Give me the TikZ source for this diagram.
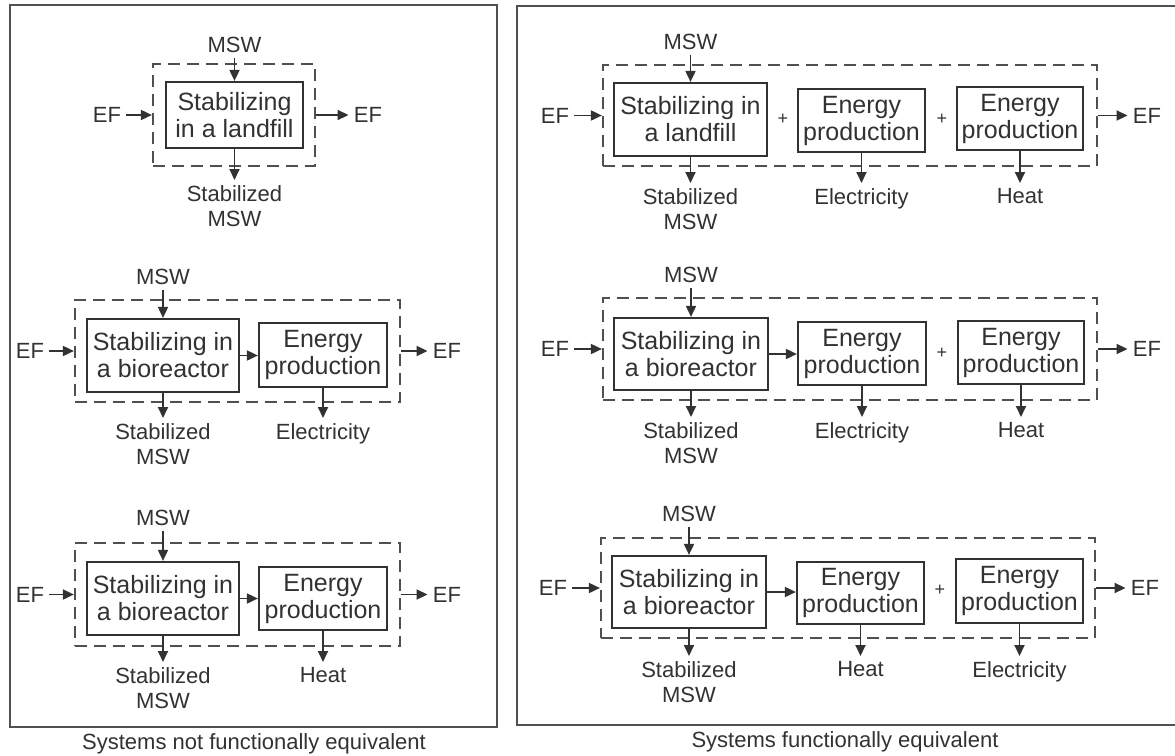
\documentclass[tikz,border=0pt]{standalone}
\usepackage{fontspec}
\setmainfont{Liberation Sans}
\usepackage{tikz}
\usetikzlibrary{arrows.meta}
\definecolor{inkgray}{RGB}{50,50,50}
\definecolor{framegray}{RGB}{80,80,80}
\newcommand{\boxfont}{\fontsize{12.5}{13.5}\selectfont}
\newcommand{\lblfont}{\fontsize{11}{12.5}\selectfont}

\begin{document}
\begin{tikzpicture}[x=0.5pt, y=-0.5pt,
		proc/.style={draw=inkgray, line width=1.1pt, fill=white, align=center, inner sep=0pt, font=\boxfont, text=inkgray},
		sysbox/.style={draw=framegray, line width=1.1pt, dash pattern=on 6pt off 3.5pt, inner sep=0pt},
		lbl/.style={align=center, inner sep=2.5pt, font=\lblfont, text=inkgray},
		plus/.style={inner sep=1pt, font=\fontsize{9}{10}\selectfont, text=inkgray},
		flow/.style={draw=inkgray, line width=0.9pt, -{Triangle[length=5.5pt,width=5pt]}},
		panel/.style={draw=framegray, line width=1.2pt}]
			\useasboundingbox (0,0) rectangle (1175,756);
			
			% Panel frames
			\draw[panel] (10,5) rectangle (497,727);
			\draw[panel] (517,6) rectangle (1180,725);
			\node[lbl] (capL) at (254,744) {Systems not functionally equivalent};
			\node[lbl] (capR) at (845,742) {Systems functionally equivalent};
			
			% Left, landfill only
			\node[sysbox, minimum width=81pt, minimum height=51pt] (sysL1) at (234,115) {};
			\node[proc, minimum width=68.5pt, minimum height=33pt] (bL1) at (234.5,115) {Stabilizing\\in a landfill};
			\node[lbl, anchor=south] (mswL1) at (234.5,58) {MSW};
			\node[lbl] (efinL1) at (107,115) {EF};
			\node[lbl] (efoutL1) at (368,115) {EF};
			\node[lbl, anchor=north] (outL1) at (234.5,180) {Stabilized\\MSW};
			\draw[flow] (mswL1) -- (bL1);
			\draw[flow] (efinL1) -- (sysL1.west);
			\draw[flow] (sysL1.east) -- (efoutL1);
			\draw[flow] (bL1) -- (outL1);
			
			% Left, bioreactor + electricity
			\node[sysbox, minimum width=162.5pt, minimum height=51pt] (sysL2) at (237.5,351) {};
			\node[proc, minimum width=76pt, minimum height=36.5pt] (bL2a) at (163,355.5) {Stabilizing in\\a bioreactor};
			\node[proc, minimum width=64pt, minimum height=32pt] (bL2b) at (323,355) {Energy\\production};
			\node[lbl, anchor=south] (mswL2) at (163,290) {MSW};
			\node[lbl] (efinL2) at (30,351) {EF};
			\node[lbl] (efoutL2) at (447,351) {EF};
			\node[lbl, anchor=north] (outL2a) at (163,418) {Stabilized\\MSW};
			\node[lbl, anchor=north] (outL2b) at (323,418) {Electricity};
			\draw[flow] (mswL2) -- (bL2a);
			\draw[flow] (efinL2) -- (sysL2.west);
			\draw[flow] (sysL2.east) -- (efoutL2);
			\draw[flow] (bL2a.east) -- (bL2a.east -| bL2b.west);
			\draw[flow] (bL2a) -- (outL2a);
			\draw[flow] (bL2b) -- (outL2b);
			
			% Left, bioreactor + heat
			\node[sysbox, minimum width=162.5pt, minimum height=51.5pt] (sysL3) at (237.5,594.5) {};
			\node[proc, minimum width=76pt, minimum height=36.5pt] (bL3a) at (163,598.5) {Stabilizing in\\a bioreactor};
			\node[proc, minimum width=64pt, minimum height=31.5pt] (bL3b) at (323,598.5) {Energy\\production};
			\node[lbl, anchor=south] (mswL3) at (163,531) {MSW};
			\node[lbl] (efinL3) at (30,594.5) {EF};
			\node[lbl] (efoutL3) at (447,594.5) {EF};
			\node[lbl, anchor=north] (outL3a) at (163,662) {Stabilized\\MSW};
			\node[lbl, anchor=north] (outL3b) at (323,662) {Heat};
			\draw[flow] (mswL3) -- (bL3a);
			\draw[flow] (efinL3) -- (sysL3.west);
			\draw[flow] (sysL3.east) -- (efoutL3);
			\draw[flow] (bL3a.east) -- (bL3a.east -| bL3b.west);
			\draw[flow] (bL3a) -- (outL3a);
			\draw[flow] (bL3b) -- (outL3b);
			
			% Right, landfill + electricity + heat
			\node[sysbox, minimum width=247pt, minimum height=50.5pt] (sysR1) at (850,115.5) {};
			\node[proc, minimum width=76.5pt, minimum height=36.5pt] (bR1a) at (690.5,119.5) {Stabilizing in\\a landfill};
			\node[proc, minimum width=63.5pt, minimum height=31.5pt] (bR1b) at (861.5,120.5) {Energy\\production};
			\node[proc, minimum width=63pt, minimum height=31.5pt] (bR1c) at (1020,118.5) {Energy\\production};
			\node[plus] (pR1a) at (783,119) {+};
			\node[plus] (pR1b) at (942,119) {+};
			\node[lbl, anchor=south] (mswR1) at (690.5,55) {MSW};
			\node[lbl] (efinR1) at (555,115.5) {EF};
			\node[lbl] (efoutR1) at (1147,115.5) {EF};
			\node[lbl, anchor=north] (outR1a) at (690.5,183) {Stabilized\\MSW};
			\node[lbl, anchor=north] (outR1b) at (861.5,183) {Electricity};
			\node[lbl, anchor=north] (outR1c) at (1020,183) {Heat};
			\draw[flow] (mswR1) -- (bR1a);
			\draw[flow] (efinR1) -- (sysR1.west);
			\draw[flow] (sysR1.east) -- (efoutR1);
			\draw[flow] (bR1a) -- (outR1a);
			\draw[flow] (bR1b) -- (outR1b);
			\draw[flow] (bR1c) -- (outR1c);
			
			% Right, bioreactor + electricity, plus heat
			\node[sysbox, minimum width=247pt, minimum height=51pt] (sysR2) at (850,349) {};
			\node[proc, minimum width=77pt, minimum height=36pt] (bR2a) at (691,354) {Stabilizing in\\a bioreactor};
			\node[proc, minimum width=64pt, minimum height=31.5pt] (bR2b) at (862,353.5) {Energy\\production};
			\node[proc, minimum width=63pt, minimum height=31.5pt] (bR2c) at (1021,352.5) {Energy\\production};
			\node[plus] (pR2) at (942,353) {+};
			\node[lbl, anchor=south] (mswR2) at (691,288) {MSW};
			\node[lbl] (efinR2) at (555,349) {EF};
			\node[lbl] (efoutR2) at (1147,349) {EF};
			\node[lbl, anchor=north] (outR2a) at (691,417) {Stabilized\\MSW};
			\node[lbl, anchor=north] (outR2b) at (862,417) {Electricity};
			\node[lbl, anchor=north] (outR2c) at (1021,417) {Heat};
			\draw[flow] (mswR2) -- (bR2a);
			\draw[flow] (efinR2) -- (sysR2.west);
			\draw[flow] (sysR2.east) -- (efoutR2);
			\draw[flow] (bR2a.east) -- (bR2a.east -| bR2b.west);
			\draw[flow] (bR2a) -- (outR2a);
			\draw[flow] (bR2b) -- (outR2b);
			\draw[flow] (bR2c) -- (outR2c);
			
			% Right, bioreactor + heat, plus electricity
			\node[sysbox, minimum width=247pt, minimum height=50pt] (sysR3) at (848,588) {};
			\node[proc, minimum width=77pt, minimum height=36pt] (bR3a) at (689,592) {Stabilizing in\\a bioreactor};
			\node[proc, minimum width=63.5pt, minimum height=31pt] (bR3b) at (860.5,593) {Energy\\production};
			\node[proc, minimum width=63.5pt, minimum height=32pt] (bR3c) at (1019.5,591) {Energy\\production};
			\node[plus] (pR3) at (940,590) {+};
			\node[lbl, anchor=south] (mswR3) at (689,527) {MSW};
			\node[lbl] (efinR3) at (553,588) {EF};
			\node[lbl] (efoutR3) at (1145,588) {EF};
			\node[lbl, anchor=north] (outR3a) at (689,656) {Stabilized\\MSW};
			\node[lbl, anchor=north] (outR3b) at (860.5,656) {Heat};
			\node[lbl, anchor=north] (outR3c) at (1019.5,656) {Electricity};
			\draw[flow] (mswR3) -- (bR3a);
			\draw[flow] (efinR3) -- (sysR3.west);
			\draw[flow] (sysR3.east) -- (efoutR3);
			\draw[flow] (bR3a.east) -- (bR3a.east -| bR3b.west);
			\draw[flow] (bR3a) -- (outR3a);
			\draw[flow] (bR3b) -- (outR3b);
			\draw[flow] (bR3c) -- (outR3c);
		\end{tikzpicture}
\end{document}
